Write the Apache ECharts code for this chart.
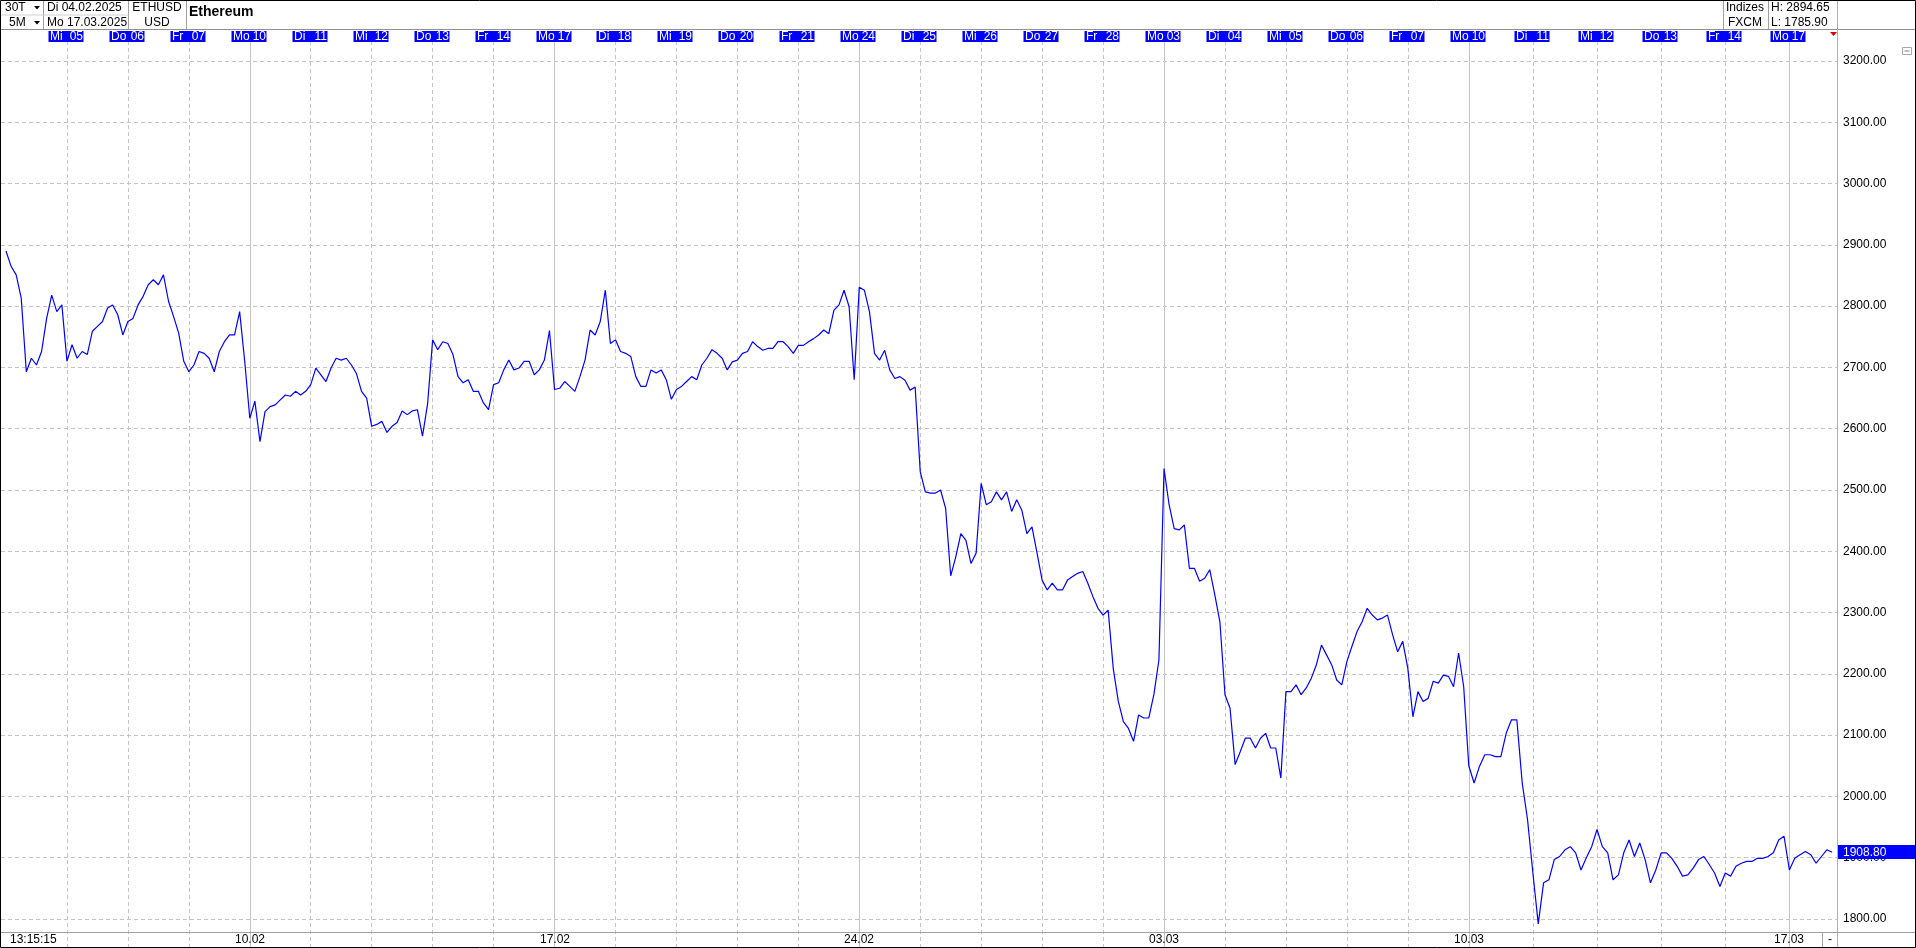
<!DOCTYPE html>
<html><head><meta charset="utf-8">
<script src="https://cdn.jsdelivr.net/npm/echarts@6/dist/echarts.min.js"></script>
<style>html,body{margin:0;padding:0;background:#fff;overflow:hidden}#c{width:1916px;height:948px}</style>
</head><body><div id="c"></div>
<script>
// ---- data ----
const dayNames  = ['Di','Mi','Do','Fr','Mo','Di','Mi','Do','Fr','Mo','Di','Mi','Do','Fr','Mo','Di','Mi','Do','Fr','Mo','Di','Mi','Do','Fr','Mo','Di','Mi','Do','Fr','Mo'];
const dayNums   = ['04','05','06','07','10','11','12','13','14','17','18','19','20','21','24','25','26','27','28','03','04','05','06','07','10','11','12','13','14','17'];
const dayMonths = ['02','02','02','02','02','02','02','02','02','02','02','02','02','02','02','02','02','02','02','03','03','03','03','03','03','03','03','03','03','03'];
const dayHours  = [24,24,24,24,24,24,24,24,24,24,24,24,24,24,24,24,24,24,24,24,24,24,24,24,25.25,25.25,25.25,25.25,25.25,25.25];
const samplesPerDay = 12;
// 12 samples per trading day
const week0 = [ // Di04 - Fr07 Feb
  2890,2865,2851,2813,2693,2715,2704,2726,2780,2818,2791,2802,
  2710,2737,2715,2726,2721,2759,2767,2775,2797,2802,2786,2753,
  2775,2780,2802,2816,2835,2843,2835,2851,2808,2783,2756,2710,
  2693,2704,2726,2723,2715,2693,2726,2742,2753,2753,2791,2710];
const week1 = [ // Mo10 - Fr14 Feb
  2617,2645,2579,2628,2636,2639,2647,2655,2653,2661,2655,2661,
  2672,2699,2688,2677,2699,2715,2712,2715,2704,2690,2661,2650,
  2604,2607,2612,2594,2604,2610,2629,2623,2629,2631,2588,2640,
  2745,2729,2742,2739,2721,2685,2675,2680,2661,2661,2642,2631,
  2672,2675,2696,2712,2696,2699,2710,2710,2688,2696,2712,2760];
const week2 = [ // Mo17 - Fr21 Feb
  2664,2666,2677,2669,2661,2685,2712,2761,2753,2775,2826,2739,
  2745,2726,2723,2718,2685,2669,2669,2696,2691,2696,2680,2648,
  2664,2669,2677,2685,2680,2704,2715,2729,2723,2715,2696,2709,
  2712,2723,2726,2742,2734,2728,2731,2731,2742,2742,2734,2723,
  2736,2736,2742,2747,2753,2761,2755,2793,2802,2826,2799,2680];
const week3 = [ // Mo24 - Fr28 Feb
  2831,2826,2791,2723,2712,2728,2696,2682,2685,2679,2663,2668,
  2530,2497,2495,2495,2500,2470,2360,2391,2429,2418,2380,2397,
  2511,2476,2481,2497,2484,2497,2465,2484,2467,2429,2440,2397,
  2353,2337,2348,2337,2337,2353,2359,2364,2367,2348,2326,2307,
  2296,2304,2209,2155,2122,2111,2090,2133,2128,2128,2166,2223];
const week4 = [ // Mo03 - Fr07 Mar
  2535,2476,2437,2435,2443,2372,2372,2351,2356,2370,2329,2285,
  2166,2144,2052,2073,2095,2095,2079,2095,2103,2079,2079,2030,
  2171,2171,2182,2166,2177,2193,2215,2247,2231,2215,2190,2182,
  2220,2245,2269,2285,2307,2296,2288,2291,2296,2264,2236,2253,
  2209,2130,2171,2155,2160,2188,2185,2198,2196,2179,2234,2179];
const week5 = [ // Mo10 - Fr14 Mar
  2050,2022,2049,2068,2068,2065,2065,2103,2125,2125,2022,1962,
  1875,1792,1859,1864,1897,1902,1913,1918,1908,1880,1900,1918,
  1946,1918,1908,1864,1872,1908,1929,1902,1924,1897,1859,1880,
  1908,1908,1899,1886,1870,1872,1883,1897,1902,1889,1875,1853,
  1875,1870,1886,1891,1894,1894,1899,1899,1902,1908,1929,1935];
const week6 = [ // Mo17 Mar (partial)
  1880,1899,1905,1910,1905,1891,1902,1913,1908.8];
const yTicks = [1800,1900,2000,2100,2200,2300,2400,2500,2600,2700,2800,2900,3000,3100,3200];
const lastPrice = 1908.80;
const highText = 'H: 2894.65', lowText = 'L: 1785.90';
const cursorTime = '13:15:15';

// ---- build ----
const FONT = '"Liberation Sans", Arial, sans-serif';
const prices = [].concat(week0, week1, week2, week3, week4, week5, week6);
const dayStart = []; let acc = 0;
dayHours.forEach(h => { dayStart.push(acc); acc += h; });
const seriesData = prices.map((v, i) => {
  const d = Math.floor(i / samplesPerDay), k = i % samplesPerDay;
  return [dayStart[d] + k * dayHours[d] / samplesPerDay, v];
});

const vLines = [];
for (let d = 1; d < dayStart.length; d++) {
  vLines.push({ xAxis: dayStart[d], lineStyle: { type: dayNames[d] === 'Mo' ? 'solid' : [4, 3], color: '#c4c4c4', width: 1 }, label: { show: false } });
}
const hLines = yTicks.map(v => ({
  yAxis: v, lineStyle: { type: [4, 3], color: '#c4c4c4', width: 1 },
  label: { show: true, position: 'end', formatter: v.toFixed(2), color: '#000', fontSize: 12, fontFamily: FONT, distance: 6 }
}));

const chart = echarts.init(document.getElementById('c'), null, { renderer: 'canvas' });
chart.setOption({
  animation: false,
  backgroundColor: '#fff',
  grid: { left: 1, right: 79, top: 30, bottom: 0 },
  xAxis: { type: 'value', min: -1.97, max: 721, show: false, splitLine: { show: false } },
  yAxis: { type: 'value', min: 1752.7, max: 3250.6, show: false, splitLine: { show: false } },
  series: [{
    type: 'line', data: seriesData, showSymbol: false, symbol: 'none', z: 3,
    lineStyle: { color: '#0000ff', width: 1.2 }, itemStyle: { color: '#0000ff' },
    markLine: { silent: true, symbol: ['none', 'none'], z: 1, animation: false, data: vLines.concat(hLines) }
  }]
});

const G = [];
function ln(x1, y1, x2, y2, c, z) { G.push({ type: 'line', shape: { x1, y1, x2, y2 }, style: { stroke: c || '#a0a0a0', lineWidth: 1 }, z: z || 50, silent: true }); }
function tx(x, y, s, o) {
  o = o || {};
  G.push({ type: 'text', x: x, y: y, silent: true, z: o.z || 60,
    style: { text: s, fill: o.fill || '#000', font: (o.bold ? 'bold ' : '') + (o.size || 12) + 'px ' + FONT,
      textAlign: o.align || 'left', align: o.align || 'left', textVerticalAlign: 'middle', verticalAlign: 'middle' } });
}
function rc(x, y, w, h, fill, stroke, z) { G.push({ type: 'rect', shape: { x, y, width: w, height: h }, style: { fill: fill || 'none', stroke: stroke || null, lineWidth: 1 }, z: z || 40, silent: true }); }
function tri(pts, fill, z) { G.push({ type: 'polygon', shape: { points: pts }, style: { fill: fill }, z: z || 60, silent: true }); }
const xp = v => chart.convertToPixel({ xAxisIndex: 0 }, v);
const yp = v => chart.convertToPixel({ yAxisIndex: 0 }, v);

// header
rc(0, 0, 1916, 29.5, '#fff', null, 30);
ln(0, 29.5, 1916, 29.5, '#909090');
ln(43.5, 0, 43.5, 29.5); ln(128.5, 0, 128.5, 29.5); ln(186.5, 0, 186.5, 29.5);
ln(0, 15, 128.5, 15, '#d0d0d0');
tx(5, 8, '30T'); tx(9, 22.5, '5M');
tri([[34, 6], [40, 6], [37, 9.5]], '#000'); tri([[34, 21], [40, 21], [37, 24.5]], '#000');
tx(47, 8, 'Di ' + dayNums[0] + '.' + dayMonths[0] + '.2025'); tx(47, 22.5, 'Mo ' + dayNums[29] + '.' + dayMonths[29] + '.2025');
tx(157, 8, 'ETHUSD', { align: 'center' }); tx(157, 22.5, 'USD', { align: 'center' });
tx(189, 12, 'Ethereum', { bold: true, size: 14 });
ln(1723.5, 0, 1723.5, 29.5); ln(1768.5, 0, 1768.5, 29.5);
tx(1745, 8, 'Indizes', { align: 'center' }); tx(1745, 22.5, 'FXCM', { align: 'center' });
tx(1771, 8, highText); tx(1771, 22.5, lowText);

// right axis separator
ln(1837.5, 0, 1837.5, 948, '#b0b0b0');

// day label strip
rc(1, 30, 1836, 12, '#fff', null, 45);
for (let d = 1; d < dayStart.length; d++) {
  const px = Math.round(xp(dayStart[d]));
  rc(px - 18.5, 31, 35, 11, '#0000ff', null, 46);
  tx(px - 17, 36.5, dayNames[d], { fill: '#fff', z: 47 });
  tx(px + 16, 36.5, dayNums[d], { fill: '#fff', align: 'right', z: 47 });
}
tri([[1830, 32], [1837, 32], [1833.5, 36]], '#e00000');
rc(1902.5, 47.5, 9, 7, '#fff', '#a8a8a8', 60); ln(1904.5, 51, 1909.5, 51, '#808080', 61);

// bottom row
ln(0, 932.5, 1916, 932.5, '#a0a0a0');
tx(10, 940, cursorTime);
for (let d = 0; d < dayStart.length; d++) {
  if (dayNames[d] === 'Mo') tx(Math.round(xp(dayStart[d])), 940, dayNums[d] + '.' + dayMonths[d], { align: 'center' });
}
ln(1822.5, 932.5, 1822.5, 948, '#a0a0a0');
tx(1830, 940, '-', { align: 'center' });

// last price box
const py = Math.round(yp(lastPrice));
rc(1838, py - 7, 78, 14, '#0000ff', null, 70);
tx(1843, py + 0.5, lastPrice.toFixed(2), { fill: '#fff', z: 71 });

// outer frame
rc(0.5, 0.5, 1915, 947, 'none', '#000', 200);

chart.setOption({ graphic: { elements: G } });
</script>
</body></html>
